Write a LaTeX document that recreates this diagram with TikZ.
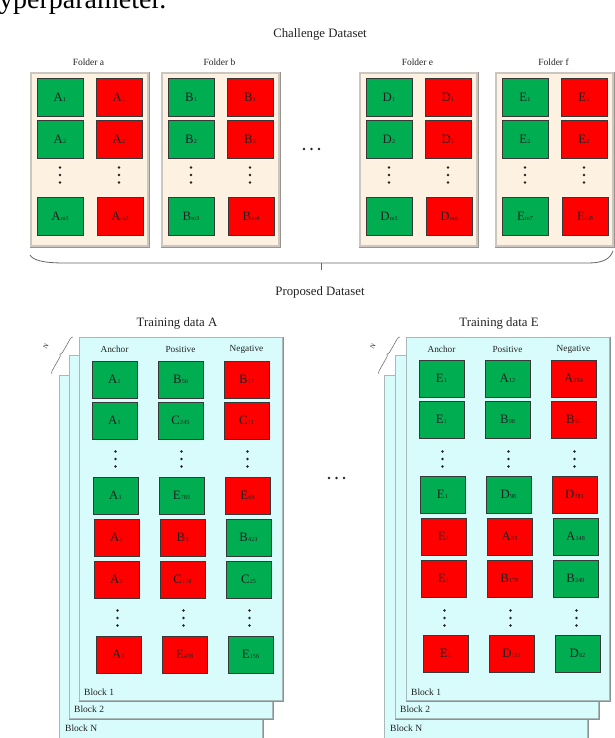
\documentclass[tikz,border=0pt]{standalone}
\usepackage{fontspec}
\setmainfont{Liberation Serif}
\usetikzlibrary{decorations.pathreplacing}
\definecolor{sqg}{HTML}{00AD50}
\definecolor{sqr}{HTML}{FF0000}
\definecolor{creambg}{HTML}{FDF1E1}
\definecolor{cyanbg}{HTML}{D8FCFC}
\definecolor{bevlight}{HTML}{CCC6C0}
\definecolor{bevdark}{HTML}{9A948E}
\definecolor{panedge}{HTML}{A9B8B8}
\definecolor{pandark}{HTML}{8A9292}
\definecolor{txt}{HTML}{222222}

\newcommand{\lab}[2]{#1\kern0.2pt\raisebox{-0.3pt}{\fontsize{6.2}{6.2}\selectfont #2}}
\newcommand{\vdts}[2]{%
  \fill[txt] (#1,#2-7.5) circle (1.3);
  \fill[txt] (#1,#2) circle (1.3);
  \fill[txt] (#1,#2+7.5) circle (1.3);}

\tikzset{
  sq/.style={draw=black!78, line width=0.8pt, minimum width=45pt, minimum height=37pt,
    inner sep=0, font=\fontsize{12.8}{13}\selectfont, text=txt},
  fsq/.style={sq, minimum width=46pt, minimum height=38pt},
  folderbg/.style={anchor=north west, minimum width=117pt, minimum height=173pt, inner sep=0,
    fill=creambg, draw=bevlight, line width=1.6pt},
  bevshadow/.style={draw=bevdark, line width=1pt},
  panel/.style={anchor=north west, minimum width=203pt, minimum height=363pt, inner sep=0,
    fill=cyanbg, draw=panedge, line width=0.9pt},
  panshadow/.style={draw=pandark, line width=1.5pt},
  bigt/.style={font=\fontsize{12.8}{14}\selectfont, text=txt, inner sep=0},
  fldlbl/.style={font=\fontsize{9.5}{10}\selectfont, text=txt, inner sep=0},
  hdr/.style={font=\fontsize{9.3}{10}\selectfont, text=txt, inner sep=0},
  blklbl/.style={anchor=west, font=\fontsize{9.5}{10}\selectfont, text=txt, inner sep=0},
  bracel/.style={draw=black!60, line width=0.8pt},
  nbrace/.style={draw=black!55, line width=0.6pt, decorate,
    decoration={brace, amplitude=3pt}},
  nlbl/.style={font=\fontsize{6.5}{7}\selectfont, rotate=60, inner sep=0, text=txt},
}

% folder: #1 left x, #2 id, #3 folder letter, #4 item letter, #5 last green sub, #6 last red sub
\newcommand{\folderbox}[6]{%
  \node[folderbg] (f#2) at (#1,72) {};
  \draw[bevshadow] ([xshift=0.8pt]f#2.north east) -- ([xshift=0.8pt,yshift=-0.8pt]f#2.south east)
     -- ([yshift=-0.8pt]f#2.south west);
  \node[fldlbl] (f#2t) at (#1+58.5,62) {Folder #3};
  \node[fsq,fill=sqg] (f#2g1) at (#1+30,97) {\lab{#4}{1}};
  \node[fsq,fill=sqr] (f#2r1) at (#1+89,97) {\lab{#4}{1}};
  \node[fsq,fill=sqg] (f#2g2) at (#1+30,139.5) {\lab{#4}{2}};
  \node[fsq,fill=sqr] (f#2r2) at (#1+89,139.5) {\lab{#4}{2}};
  \vdts{#1+30}{175}
  \vdts{#1+89}{175}
  \node[fsq,fill=sqg] (f#2g3) at (#1+30,216.5) {\lab{#4}{#5}};
  \node[fsq,fill=sqr] (f#2r3) at (#1+90,216.5) {\lab{#4}{#6}};
}

% stack panels: #1 id, #2 left x of block 1, #3 shift step
\newcommand{\stackpanels}[3]{%
  \node[panel] (#1bN) at (#2-2*#3,375) {};
  \draw[panshadow] ([xshift=0.7pt]#1bN.north east) -- ([xshift=0.7pt,yshift=-0.7pt]#1bN.south east)
     -- ([yshift=-0.7pt]#1bN.south west);
  \node[blklbl] (#1lN) at (#2-2*#3+6,728) {Block N};
  \node[panel] (#1b2) at (#2-#3,355) {};
  \draw[panshadow] ([xshift=0.7pt]#1b2.north east) -- ([xshift=0.7pt,yshift=-0.7pt]#1b2.south east)
     -- ([yshift=-0.7pt]#1b2.south west);
  \node[blklbl] (#1l2) at (#2-#3+5,709) {Block 2};
  \node[panel] (#1b1) at (#2,337) {};
  \draw[panshadow] ([xshift=0.7pt]#1b1.north east) -- ([xshift=0.7pt,yshift=-0.7pt]#1b1.south east)
     -- ([yshift=-0.7pt]#1b1.south west);
  \node[blklbl] (#1l1) at (#2+5,692) {Block 1};
  \node[hdr] (#1h1) at (#2+35.5,349) {Anchor};
  \node[hdr] (#1h2) at (#2+101.5,349) {Positive};
  \node[hdr] (#1h3) at (#2+167.5,349) {Negative};
  \coordinate (#1nb) at (#2-27,374);
  \coordinate (#1nt) at (#2-6,337);
  \draw[nbrace] (#1nb) -- (#1nt);
  \node[nlbl] (#1N) at (#2-33,346) {N};
  \vdts{#2+36.5}{459}
  \vdts{#2+102.5}{459}
  \vdts{#2+168.5}{459}
  \vdts{#2+38.5}{618}
  \vdts{#2+104.5}{618}
  \vdts{#2+170.5}{618}
}

% row: #1 name, #2 x base, #3 y, then colour/text pairs
\newcommand{\srow}[9]{%
  \node[sq,fill=#4] (#1a) at (#2+35.5,#3) {#5};
  \node[sq,fill=#6] (#1b) at (#2+101.5,#3) {#7};
  \node[sq,fill=#8] (#1c) at (#2+167.5,#3) {#9};}

\begin{document}
\begin{tikzpicture}[x=1pt,y=-1pt]
\useasboundingbox (0,0) rectangle (614,738);

% cropped caption text at the top
\node[anchor=base west, inner sep=0, font=\fontsize{28}{30}\selectfont, text=black] (hyp) at (-1,9) {yperparameter.};

\node[bigt] (chal) at (320,34) {Challenge Dataset};

\folderbox{30}{a}{a}{A}{m1}{m2}
\folderbox{161}{b}{b}{B}{m3}{m4}
\folderbox{359}{e}{e}{D}{m5}{m6}
\folderbox{495}{f}{f}{E}{m7}{m8}

\fill[txt] (304,149) circle (1.4);
\fill[txt] (311.5,149) circle (1.4);
\fill[txt] (319,149) circle (1.4);

% brace
\coordinate (brL) at (30,255);
\coordinate (brR) at (613,251);
\coordinate (brM) at (321,263);
\coordinate (brT) at (321,270);
\draw[bracel] (brL) .. controls (33,260) and (42,263) .. (65,263) -- (588,263)
   .. controls (603,263) and (610,259) .. (brR);
\draw[bracel] (brM) -- (brT);

\node[bigt] (prop) at (320,292) {Proposed Dataset};
\node[bigt] (trA) at (177,323) {Training data A};
\node[bigt] (trE) at (499,323) {Training data E};

% stack A
\stackpanels{A}{79}{10}
\srow{Ar1}{79}{379.5}{sqg}{\lab{A}{1}}{sqg}{\lab{B}{56}}{sqr}{\lab{B}{17}}
\srow{Ar2}{79}{420.5}{sqg}{\lab{A}{1}}{sqg}{\lab{C}{245}}{sqr}{\lab{C}{11}}
\srow{Ar4}{80}{495.5}{sqg}{\lab{A}{1}}{sqg}{\lab{E}{789}}{sqr}{\lab{E}{69}}
\srow{Ar5}{81}{537.5}{sqr}{\lab{A}{1}}{sqr}{\lab{B}{3}}{sqg}{\lab{B}{423}}
\srow{Ar6}{81}{579.5}{sqr}{\lab{A}{1}}{sqr}{\lab{C}{178}}{sqg}{\lab{C}{25}}
\srow{Ar8}{83}{654.5}{sqr}{\lab{A}{1}}{sqr}{\lab{E}{478}}{sqg}{\lab{E}{156}}

% middle dots
\fill[txt] (329,478) circle (1.4);
\fill[txt] (336.5,478) circle (1.4);
\fill[txt] (344,478) circle (1.4);

% stack E
\stackpanels{E}{406}{11}
\srow{Er1}{406}{378.5}{sqg}{\lab{E}{1}}{sqg}{\lab{A}{12}}{sqr}{\lab{A}{234}}
\srow{Er2}{406}{419.5}{sqg}{\lab{E}{1}}{sqg}{\lab{B}{98}}{sqr}{\lab{B}{51}}
\srow{Er4}{407}{494.5}{sqg}{\lab{E}{1}}{sqg}{\lab{D}{98}}{sqr}{\lab{D}{781}}
\srow{Er5}{408}{536.5}{sqr}{\lab{E}{1}}{sqr}{\lab{A}{83}}{sqg}{\lab{A}{148}}
\srow{Er6}{408}{578.5}{sqr}{\lab{E}{1}}{sqr}{\lab{B}{178}}{sqg}{\lab{B}{249}}
\srow{Er8}{410}{653.5}{sqr}{\lab{E}{1}}{sqr}{\lab{D}{111}}{sqg}{\lab{D}{82}}
\end{tikzpicture}
\end{document}
